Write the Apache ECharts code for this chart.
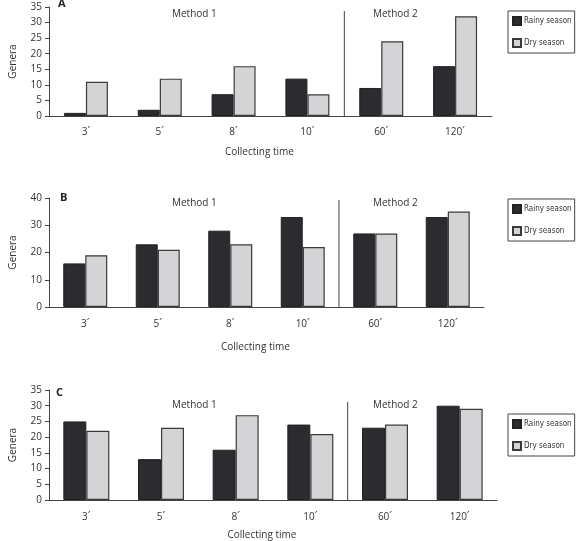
<!DOCTYPE html>
<html>
<head>
<meta charset="utf-8">
<script src="https://cdn.jsdelivr.net/npm/echarts@6/dist/echarts.min.js"></script>
<style>
  html, body { margin: 0; padding: 0; background: #fff; }
  #chart { width: 576px; height: 541px; }
</style>
</head>
<body>
<div id="chart"></div>
<script>
const categories = ['3´', '5´', '8´', '10´', '60´', '120´']
const rainyA = [1, 2, 7, 12, 9, 16]
const dryA = [11, 12, 16, 7, 24, 32]
const rainyB = [16, 23, 28, 33, 27, 33]
const dryB = [19, 21, 23, 22, 27, 35]
const rainyC = [25, 13, 16, 24, 23, 30]
const dryC = [22, 23, 27, 21, 24, 29]
const yMax = [35, 40, 35]
const yStep = [5, 10, 5]
// Method 1 / Method 2 divider: sits after the 4th category, top end in axis units
const dividerAt = 4
const dividerTop = [33.7, 39.3, 31.2]

const font = '"Open Sans", sans-serif'
const axisColor = '#444'

const grids = [
  { left: 42, top: 7, width: 450, height: 109 },
  { left: 42, top: 198, width: 442, height: 109 },
  { left: 42, top: 390, width: 455, height: 110 }
]
const labelMargin = [11, 12, 12]
const nameGap = [31, 35, 30]
const barWidth = [22, 22, 23]

const xAxes = grids.map((g, i) => ({
  type: 'category',
  gridIndex: i,
  data: categories,
  name: 'Collecting time',
  nameLocation: 'middle',
  nameGap: nameGap[i],
  nameTextStyle: { fontFamily: font, fontSize: 10, color: '#333', padding: [0, 22, 0, 0] },
  axisLine: { lineStyle: { color: axisColor, width: 1 } },
  axisTick: { length: 4, lineStyle: { color: axisColor } },
  axisLabel: { margin: labelMargin[i], fontFamily: font, fontSize: 10, color: '#333' }
}))
// hidden value axes, one per panel, used only to place the divider line
grids.forEach((g, i) => {
  xAxes.push({
    type: 'value',
    gridIndex: i,
    min: 0,
    max: categories.length,
    show: false,
    splitLine: { show: false }
  })
})

const yAxes = grids.map((g, i) => ({
  type: 'value',
  gridIndex: i,
  min: 0,
  max: yMax[i],
  interval: yStep[i],
  name: 'Genera',
  nameLocation: 'middle',
  nameGap: 31,
  nameTextStyle: { fontFamily: font, fontSize: 10, color: '#333' },
  splitLine: { show: false },
  axisLine: { show: true, lineStyle: { color: axisColor, width: 1 } },
  axisTick: { show: true, length: 4, lineStyle: { color: axisColor } },
  axisLabel: { margin: 7, fontFamily: font, fontSize: 10, color: '#333' }
}))

const panels = [[rainyA, dryA], [rainyB, dryB], [rainyC, dryC]]
const series = []
panels.forEach(([rainy, dry], i) => {
  series.push({
    name: 'Rainy season',
    type: 'bar',
    xAxisIndex: i,
    yAxisIndex: i,
    barWidth: barWidth[i],
    barGap: 0,
    data: rainy,
    itemStyle: { color: '#2b2b30', borderColor: '#222', borderWidth: 1 },
    emphasis: { disabled: true }
  })
  series.push({
    name: 'Dry season',
    type: 'bar',
    xAxisIndex: i,
    yAxisIndex: i,
    barWidth: barWidth[i],
    barGap: 0,
    data: dry,
    itemStyle: { color: '#d4d4d6', borderColor: '#3a3a3a', borderWidth: 1.2 },
    emphasis: { disabled: true }
  })
  series.push({
    name: 'divider',
    type: 'line',
    xAxisIndex: grids.length + i,
    yAxisIndex: i,
    symbol: 'none',
    silent: true,
    lineStyle: { color: axisColor, width: 1 },
    data: [[dividerAt, dividerTop[i]], [dividerAt, 0]]
  })
})

const legendTops = [11, 199, 414]
const legends = legendTops.map(top => ({
  orient: 'vertical',
  left: 508,
  top: top,
  data: ['Rainy season', 'Dry season'],
  icon: 'rect',
  itemWidth: 8,
  itemHeight: 8,
  itemGap: 12,
  padding: [5, 3, 5, 4],
  borderColor: '#444',
  borderWidth: 1,
  selectedMode: false,
  textStyle: { fontFamily: '"DejaVu Sans Condensed", "Liberation Sans Narrow", sans-serif', fontSize: 8, color: '#333', padding: [0, 0, 0, -2] }
}))

const panelLetters = ['A', 'B', 'C']
const letterPos = [[58, -2], [60, 192], [56, 387]]
const methodY = [9, 198, 400]
const graphics = []
panelLetters.forEach((t, i) => {
  graphics.push({
    type: 'text', left: letterPos[i][0], top: letterPos[i][1],
    style: { text: t, font: 'bold 11px ' + font, fill: '#222' }
  })
  graphics.push({
    type: 'text', left: 172, top: methodY[i],
    style: { text: 'Method 1', font: '10px ' + font, fill: '#333' }
  })
  graphics.push({
    type: 'text', left: 373, top: methodY[i],
    style: { text: 'Method 2', font: '10px ' + font, fill: '#333' }
  })
})

const chart = echarts.init(document.getElementById('chart'))
chart.setOption({
  animation: false,
  grid: grids,
  xAxis: xAxes,
  yAxis: yAxes,
  legend: legends,
  series: series,
  graphic: graphics
})
</script>
</body>
</html>
